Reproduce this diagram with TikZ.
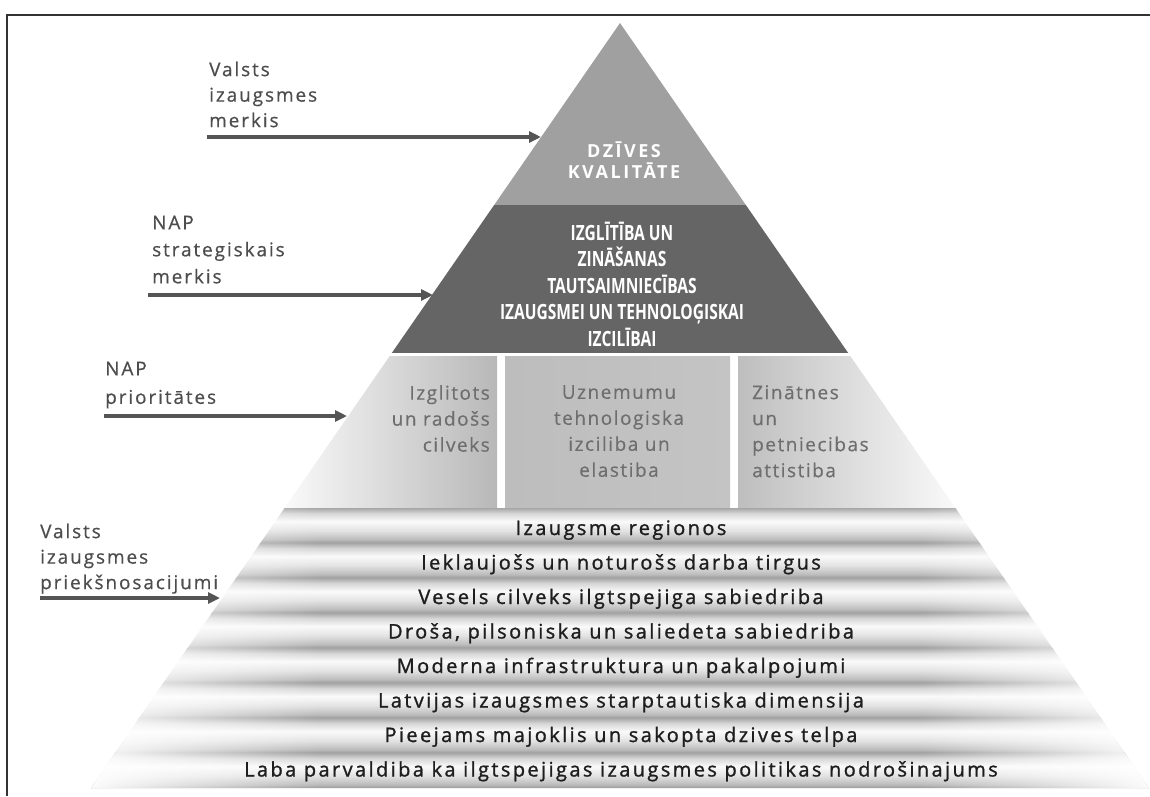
\documentclass[tikz,border=0pt]{standalone}
\usepackage{fontspec}
\setmainfont{Open Sans}
\newfontfamily\rowfont[LetterSpace=12,FakeBold=1.2]{Open Sans}
\newfontfamily\colfont[LetterSpace=8,FakeBold=0.4]{Open Sans}
\newfontfamily\lblfont[LetterSpace=10,FakeBold=0.5]{Open Sans}
\newfontfamily\capfont[FakeStretch=0.74]{Open Sans}
\newfontfamily\topfont[LetterSpace=14]{Open Sans}
\usetikzlibrary{arrows.meta,fadings}
\definecolor{toptri}{HTML}{A0A0A0}
\definecolor{darksec}{HTML}{656565}
\definecolor{lblc}{HTML}{4D4D4D}
\definecolor{arrowc}{HTML}{555555}
\definecolor{rowc}{HTML}{1E1E1E}
\definecolor{colc}{HTML}{6E6E6E}
\definecolor{framec}{HTML}{333333}
\definecolor{cAl}{HTML}{FBFBFB}
\definecolor{cAr}{HTML}{B8B8B8}
\definecolor{cBl}{HTML}{BDBDBD}
\definecolor{cBm}{HTML}{E0E0E0}
\definecolor{cBr}{HTML}{C4C4C4}
\definecolor{cCl}{HTML}{BEBEBE}
\definecolor{cCr}{HTML}{FBFBFB}
\definecolor{sA}{HTML}{9A9A9A}
\definecolor{sB}{HTML}{BBBBBB}
\definecolor{sC}{HTML}{E2E2E2}
\definecolor{sD}{HTML}{FAFAFA}
\definecolor{sE}{HTML}{D6D6D6}
\definecolor{sF}{HTML}{A6A6A6}
\pgfdeclareverticalshading{stripeshade}{100bp}{color(0bp)=(sA); color(25bp)=(sA); color(30bp)=(sB); color(42.5bp)=(sC); color(56bp)=(sD); color(67.5bp)=(sE); color(75bp)=(sF); color(100bp)=(sF)}
\tikzfading[name=fadeoutright, left color=transparent!0, right color=transparent!100]
\tikzfading[name=fadeoutleft, left color=transparent!100, right color=transparent!0]
\tikzset{
  rowtxt/.style={anchor=base, inner sep=0pt, text=rowc, font=\rowfont\fontsize{20}{24}\selectfont},
  coltxt/.style={inner sep=0pt, text=colc, font=\colfont\fontsize{19}{26}\selectfont},
  lbl/.style={anchor=north west, inner sep=0pt, align=left, text=lblc, font=\lblfont\fontsize{19}{25.5}\selectfont},
  arr/.style={line width=4pt, draw=arrowc, -{Triangle[length=12pt,width=11pt]}},
  framel/.style={line width=1.5pt, draw=framec}
}
\begin{document}
\begin{tikzpicture}[x=1pt,y=-1pt]
\useasboundingbox (0,0) rectangle (1150,796);
\fill[white] (0,0) rectangle (1150,796);
\draw[framel] (7,796) -- (7,15) -- (1150,15);
\coordinate (apex) at (620,23);
\coordinate (bl) at (91,788);
\coordinate (br) at (1149,788);
\begin{scope}
  \clip (apex) -- (bl) -- (br) -- cycle;
  \fill[toptri] (0,0) rectangle (1150,205);
  \fill[darksec] (0,205) rectangle (1150,353);
  \shade[left color=cAl, right color=cAr] (280,356) rectangle (497,508);
  \shade[left color=cBl, middle color=cBm, right color=cBr] (505,356) rectangle (730,508);
  \shade[left color=cCl, right color=cCr] (738,356) rectangle (962,508);
  \foreach \i in {0,...,7}
    \shade[shading=stripeshade] (80,{508+35*\i}) rectangle (1160,{543+35*\i});
  \fill[white, path fading=fadeoutright] (80,508) rectangle (320,788);
  \fill[white, path fading=fadeoutleft] (920,508) rectangle (1160,788);
\end{scope}
% top texts
\node[inner sep=0pt, align=center, text=white, font=\topfont\bfseries\fontsize{18}{21}\selectfont] (toptext) at (624,160.5) {DZĪVES\\KVALITĀTE};
\node[inner sep=0pt, align=center, text=white, font=\capfont\bfseries\fontsize{21}{26.5}\selectfont] (darktext) at (622,284) {IZGLĪTĪBA UN\\ZINĀŠANAS\\TAUTSAIMNIECĪBAS\\IZAUGSMEI UN TEHNOLOĢISKAI\\IZCILĪBAI};
% columns
\node[coltxt, anchor=north east, align=right] (col1) at (490,385) {Izglitots\\un radošs\\cilveks};
\node[coltxt, anchor=north, align=center] (col2) at (619,385) {Uznemumu\\tehnologiska\\izciliba un\\elastiba};
\node[coltxt, anchor=north west, align=left] (col3) at (752,385) {Zinātnes\\un\\petniecibas\\attistiba};
% rows
\node[rowtxt] (r1) at (621,535) {Izaugsme regionos};
\node[rowtxt] (r2) at (621,569.5) {Ieklaujošs un noturošs darba tirgus};
\node[rowtxt] (r3) at (621,604) {Vesels cilveks ilgtspejiga sabiedriba};
\node[rowtxt] (r4) at (621,638.5) {Droša, pilsoniska un saliedeta sabiedriba};
\node[rowtxt] (r5) at (621,673) {Moderna infrastruktura un pakalpojumi};
\node[rowtxt] (r6) at (621,707.5) {Latvijas izaugsmes starptautiska dimensija};
\node[rowtxt] (r7) at (621,742) {Pieejams majoklis un sakopta dzives telpa};
\node[rowtxt] (r8) at (621,776.5) {Laba parvaldiba ka ilgtspejigas izaugsmes politikas nodrošinajums};
% left labels
\node[lbl] (lab1) at (209,61.5) {Valsts\\izaugsmes\\merkis};
\node[lbl, font=\lblfont\fontsize{19}{27}\selectfont] (lab2) at (152,215.5) {NAP\\strategiskais\\merkis};
\node[lbl, font=\lblfont\fontsize{19}{28.5}\selectfont] (lab3) at (105,361.5) {NAP\\prioritātes};
\node[lbl] (lab4) at (40,523.5) {Valsts\\izaugsmes\\priekšnosacijumi};
% arrows
\coordinate (a1s) at (207,137);
\coordinate (a1e) at (541,137);
\coordinate (a2s) at (148,295);
\coordinate (a2e) at (433,295);
\coordinate (a3s) at (104,416);
\coordinate (a3e) at (347,416);
\coordinate (a4s) at (40,598);
\coordinate (a4e) at (220,598);
\draw[arr] (a1s) -- (a1e);
\draw[arr] (a2s) -- (a2e);
\draw[arr] (a3s) -- (a3e);
\draw[arr] (a4s) -- (a4e);
\end{tikzpicture}
\end{document}
